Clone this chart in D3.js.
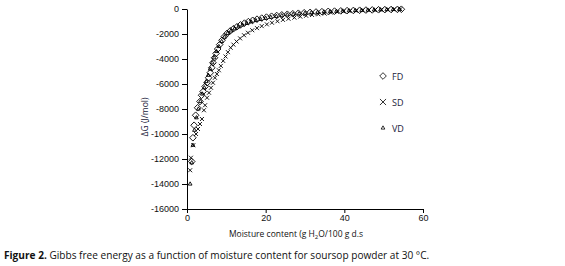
<!DOCTYPE html>
<html>
<head>
<meta charset="utf-8">
<script src="https://cdn.jsdelivr.net/npm/d3@7"></script>
<style>
  body { margin: 0; background: #fff; }
  svg { display: block; }
  .tick text { font-family: "Liberation Sans", Arial, sans-serif; font-size: 9px; fill: #111; }
</style>
</head>
<body>
<div class="chart"></div>
<script>
// moisture content (g H2O/100 g d.s) and Gibbs free energy (J/mol)
const fdMoisture = [1.2, 1.5, 1.8, 2.2, 2.7, 3.3, 3.7, 4.1, 4.6, 5.1, 5.5, 5.9, 6.3, 6.6, 7.0, 7.4, 7.8, 8.3, 8.9, 9.5,
  10.2, 11.0, 11.8, 12.7, 13.6, 14.6, 15.6, 16.7, 17.8, 19.0, 20.2, 21.5, 22.8, 24.1, 25.5, 26.9, 28.3, 29.8, 31.3, 32.8,
  34.3, 35.9, 37.5, 39.1, 40.7, 42.3, 43.9, 45.5, 47.1, 48.7, 50.3, 51.9, 53.5, 54.5];
const fdEnergy = [-12200, -10300, -9300, -8500, -7900, -7400, -6900, -6600, -6200, -5900, -5500, -5100, -4700, -4300, -3900, -3550, -3200, -2850, -2500, -2200,
  -1950, -1750, -1580, -1420, -1270, -1130, -1010, -905, -815, -730, -650, -580, -520, -470, -420, -380, -340, -300, -270, -240,
  -215, -190, -170, -150, -130, -115, -100, -85, -72, -60, -50, -40, -30, -20];

const sdMoisture = [0.8, 1.0, 1.6, 2.3, 2.8, 3.3, 3.8, 4.3, 4.6, 5.1, 5.6, 6.1, 6.6, 7.1, 7.6, 8.1, 8.6, 9.2, 9.8, 10.4,
  11.1, 11.8, 12.6, 13.5, 14.5, 15.5, 16.6, 17.8, 19.0, 20.3, 21.6, 23.0, 24.4, 25.8, 27.3, 28.8, 30.3, 31.8, 33.4, 35.0,
  36.6, 38.2, 39.8, 41.4, 43.0, 44.6, 46.2, 47.8, 49.4, 51.0, 52.6, 54.2];
const sdEnergy = [-12900, -11900, -10900, -10000, -9600, -9200, -8800, -8100, -7700, -7100, -6700, -6300, -5900, -5500, -5200, -4900, -4550, -4150, -3800, -3450,
  -3100, -2850, -2600, -2350, -2100, -1900, -1700, -1530, -1370, -1230, -1100, -980, -870, -780, -690, -610, -540, -480, -420, -370,
  -290, -240, -200, -170, -145, -120, -100, -80, -65, -50, -35, -25];

const vdMoisture = [0.8, 1.2, 1.5, 1.9, 2.4, 2.9, 3.4, 3.9, 4.4, 4.9, 5.4, 5.9, 6.4, 6.9, 7.5, 8.1, 8.8, 9.5, 10.3, 11.2,
  12.1, 13.1, 14.1, 15.2, 16.3, 17.5, 18.7, 20.0, 21.3, 22.7, 24.1, 25.5, 27.0, 28.5, 30.0, 31.6, 33.2, 34.8, 36.4, 38.0,
  39.6, 41.2, 42.8, 44.4, 46.0, 47.6, 49.2, 50.8, 52.4, 54.0];
const vdEnergy = [-14000, -12300, -10900, -9700, -8700, -8000, -7400, -6800, -6300, -5800, -5300, -4800, -4300, -3900, -3400, -3000, -2600, -2250, -1950, -1750,
  -1580, -1420, -1280, -1150, -1030, -920, -830, -740, -660, -590, -530, -470, -420, -375, -335, -300, -265, -235, -210, -185,
  -160, -140, -120, -105, -90, -75, -62, -50, -38, -27];

const xTicks = [0, 20, 40, 60];
const yTicks = [0, -2000, -4000, -6000, -8000, -10000, -12000, -14000, -16000];
const seriesNames = ["FD", "SD", "VD"];

const width = 565, height = 266;
const plot = { left: 187, right: 423, top: 9, bottom: 209 };

const svg = d3.select(".chart").append("svg")
  .attr("width", width)
  .attr("height", height);

const x = d3.scaleLinear().domain([0, 60]).range([plot.left, plot.right]);
const y = d3.scaleLinear().domain([-16000, 0]).range([plot.bottom, plot.top]);

// axes
svg.append("g")
  .attr("transform", "translate(0," + plot.bottom + ")")
  .call(d3.axisBottom(x).tickValues(xTicks).tickFormat(d => String(d)).tickSize(4).tickPadding(2).tickSizeOuter(0))
  .call(g => g.selectAll("line, path").attr("stroke", "#000"));

svg.append("g")
  .attr("transform", "translate(" + plot.left + ",0)")
  .call(d3.axisLeft(y).tickValues(yTicks).tickFormat(d => String(d)).tickSize(5).tickPadding(3).tickSizeOuter(0))
  .call(g => g.selectAll("line, path").attr("stroke", "#000"));

// markers
const diamond = d3.symbol().type(d3.symbolDiamond2).size(28);
const triangle = d3.symbol().type(d3.symbolTriangle2).size(10);
const cross = d3.symbol().type(d3.symbolTimes).size(12);
const legendCross = d3.symbol().type(d3.symbolTimes).size(26);

const addSeries = (xs, ys, sym, cls) => {
  svg.append("g").attr("class", cls)
    .selectAll("path")
    .data(xs.map((v, i) => [v, ys[i]]))
    .enter()
    .append("path")
    .attr("d", sym)
    .attr("transform", d => "translate(" + x(d[0]) + "," + y(d[1]) + ")")
    .attr("fill", "none")
    .attr("stroke", "#000")
    .attr("stroke-width", 0.9);
}

addSeries(vdMoisture, vdEnergy, triangle, "vd");
addSeries(sdMoisture, sdEnergy, cross, "sd");
addSeries(fdMoisture, fdEnergy, diamond, "fd");

// legend
const legendSyms = [diamond, legendCross, triangle];
const legend = svg.append("g").attr("class", "legend");
seriesNames.forEach((name, i) => {
  const ly = 76 + i * 26;
  legend.append("path")
    .attr("d", legendSyms[i])
    .attr("transform", "translate(383," + ly + ")")
    .attr("fill", "none")
    .attr("stroke", "#000")
    .attr("stroke-width", 0.8);
  legend.append("text")
    .attr("x", 392)
    .attr("y", ly + 3.5)
    .attr("font-family", "'Open Sans', sans-serif")
    .attr("font-size", 9)
    .attr("fill", "#1a1a3a")
    .text(name);
});

// axis titles
svg.append("text")
  .attr("transform", "translate(148,117) rotate(-90)")
  .attr("text-anchor", "middle")
  .attr("font-family", "'Open Sans', sans-serif")
  .attr("font-size", 8.5)
  .attr("fill", "#1a1a3a")
  .text("ΔG (J/mol)");

const xt = svg.append("text")
  .attr("x", 296)
  .attr("y", 237)
  .attr("text-anchor", "middle")
  .attr("font-family", "'Open Sans', sans-serif")
  .attr("font-size", 8.5)
  .attr("fill", "#111");
xt.append("tspan").text("Moisture content (g H");
xt.append("tspan").attr("font-size", 6).attr("dy", 2).text("2");
xt.append("tspan").attr("dy", -2).text("O/100 g d.s");

// caption
const cap = svg.append("text")
  .attr("x", 4)
  .attr("y", 259)
  .attr("font-family", "'Open Sans', sans-serif")
  .attr("font-size", 10.1)
  .attr("fill", "#111");
cap.append("tspan").attr("font-weight", "bold").text("Figure 2.");
cap.append("tspan").text(" Gibbs free energy as a function of moisture content for soursop powder at 30 °C.");
</script>
</body>
</html>
